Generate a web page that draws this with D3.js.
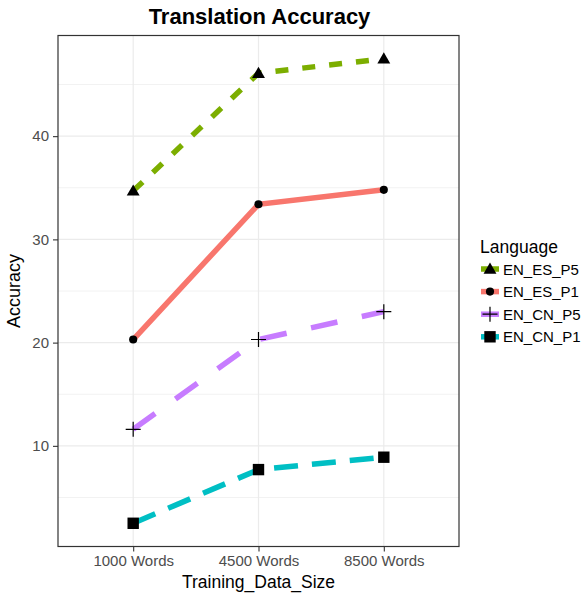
<!DOCTYPE html>
<html>
<head>
<meta charset="utf-8">
<script src="https://cdn.jsdelivr.net/npm/d3@7"></script>
<style>
	body { margin: 0; background: #fff; }
	text { font-family: 'Liberation Sans', Arial, sans-serif; }
</style>
</head>
<body>
<div id="chart"></div>
<script>
let sizes = ['1000 Words', '4500 Words', '8500 Words']
let languages = ['EN_ES_P5', 'EN_ES_P1', 'EN_CN_P5', 'EN_CN_P1']
let esP5 = [34.7, 46.1, 47.5]
let esP1 = [20.3, 33.4, 34.8]
let cnP5 = [11.6, 20.3, 23.0]
let cnP1 = [2.5, 7.7, 8.9]
let yTicks = [10, 20, 30, 40]

let colors = ['#7CAE00', '#F8766D', '#C77CFF', '#00BFC4']
let dashes = ['13,14', null, '27,25', '24,14']
let shapes = ['triangle', 'circle', 'plus', 'square']
let values = [esP5, esP1, cnP5, cnP1]

let W = 586
let H = 594
let panel = { left: 58, right: 459, top: 35.5, bottom: 546.5 }

let svg = d3
	.select('#chart')
	.append('svg')
	.attr('width', W)
	.attr('height', H)

svg.append('rect').attr('width', W).attr('height', H).attr('fill', '#fff')

let x = d3
	.scalePoint()
	.domain(sizes)
	.range([panel.left, panel.right])
	.padding(0.6)

let allVals = values.flat()
let lo = d3.min(allVals)
let hi = d3.max(allVals)
let pad = (hi - lo) * 0.05
let y = d3
	.scaleLinear()
	.domain([lo - pad, hi + pad])
	.range([panel.bottom, panel.top])

// grid: minor then major
let minor = [5, 15, 25, 35, 45]
let grid = svg.append('g')
grid
	.selectAll('.minor')
	.data(minor)
	.join('line')
	.attr('x1', panel.left)
	.attr('x2', panel.right)
	.attr('y1', d => y(d))
	.attr('y2', d => y(d))
	.attr('stroke', '#F2F2F2')
	.attr('stroke-width', 1)
grid
	.selectAll('.major')
	.data(yTicks)
	.join('line')
	.attr('x1', panel.left)
	.attr('x2', panel.right)
	.attr('y1', d => y(d))
	.attr('y2', d => y(d))
	.attr('stroke', '#EBEBEB')
	.attr('stroke-width', 1.2)
grid
	.selectAll('.vx')
	.data(sizes)
	.join('line')
	.attr('x1', d => x(d))
	.attr('x2', d => x(d))
	.attr('y1', panel.top)
	.attr('y2', panel.bottom)
	.attr('stroke', '#EBEBEB')
	.attr('stroke-width', 1.2)

// axes
let yAxis = svg
	.append('g')
	.attr('transform', `translate(${panel.left},0)`)
	.call(d3.axisLeft(y).tickValues(yTicks).tickSize(5).tickPadding(4))
let xAxis = svg
	.append('g')
	.attr('transform', `translate(0,${panel.bottom})`)
	.call(d3.axisBottom(x).tickSize(5).tickPadding(4))
for (let ax of [yAxis, xAxis]) {
	ax.select('.domain').remove()
	ax.selectAll('line').attr('stroke', '#333').attr('stroke-width', 1.1)
	ax.selectAll('text').attr('fill', '#4D4D4D').attr('font-size', 15)
}

// lines
let line = d3
	.line()
	.x((d, i) => x(sizes[i]))
	.y(d => y(d))

let symbolFor = {
	triangle: d3.symbol().type(d3.symbolTriangle).size(72),
	circle: d3.symbol().type(d3.symbolCircle).size(52),
	square: d3.symbol().type(d3.symbolSquare).size(130)
}

let drawMarker = (g, shape, cx, cy) => {
	if (shape === 'plus') {
		g.append('path')
			.attr('d', `M${cx - 7.5},${cy}H${cx + 7.5}M${cx},${cy - 7.5}V${cy + 7.5}`)
			.attr('stroke', '#000')
			.attr('stroke-width', 1.2)
			.attr('fill', 'none')
	} else {
		g.append('path')
			.attr('transform', `translate(${cx},${cy + (shape === 'triangle' ? 1 : 0)})`)
			.attr('d', symbolFor[shape]())
			.attr('fill', '#000')
	}
}

values.forEach((vals, s) => {
	svg
		.append('path')
		.datum(vals)
		.attr('d', line)
		.attr('fill', 'none')
		.attr('stroke', colors[s])
		.attr('stroke-width', 5.5)
		.attr('stroke-dasharray', dashes[s])
})
values.forEach((vals, s) => {
	let g = svg.append('g')
	vals.forEach((v, i) => drawMarker(g, shapes[s], x(sizes[i]), y(v)))
})

// panel border
svg
	.append('rect')
	.attr('x', panel.left)
	.attr('y', panel.top)
	.attr('width', panel.right - panel.left)
	.attr('height', panel.bottom - panel.top)
	.attr('fill', 'none')
	.attr('stroke', '#333')
	.attr('stroke-width', 1.2)

// titles
svg
	.append('text')
	.attr('x', (panel.left + panel.right) / 2 + 1)
	.attr('y', 24)
	.attr('text-anchor', 'middle')
	.attr('font-size', 22)
	.attr('font-weight', 'bold')
	.text('Translation Accuracy')
svg
	.append('text')
	.attr('x', (panel.left + panel.right) / 2)
	.attr('y', 588)
	.attr('text-anchor', 'middle')
	.attr('font-size', 17.5)
	.text('Training_Data_Size')
svg
	.append('text')
	.attr('transform', `translate(20,${(panel.top + panel.bottom) / 2}) rotate(-90)`)
	.attr('text-anchor', 'middle')
	.attr('font-size', 18)
	.text('Accuracy')

// legend
let legend = svg.append('g').attr('transform', 'translate(479,0)')
legend
	.append('text')
	.attr('x', 1)
	.attr('y', 253)
	.attr('font-size', 17.5)
	.text('Language')
languages.forEach((name, s) => {
	let cy = 269 + s * 22.6
	legend
		.append('line')
		.attr('x1', 2)
		.attr('x2', 20)
		.attr('y1', cy)
		.attr('y2', cy)
		.attr('stroke', colors[s])
		.attr('stroke-width', 5.5)
	drawMarker(legend, shapes[s], 11, cy)
	legend
		.append('text')
		.attr('x', 24)
		.attr('y', cy + 5.5)
		.attr('font-size', 15)
		.text(name)
})
</script>
</body>
</html>
